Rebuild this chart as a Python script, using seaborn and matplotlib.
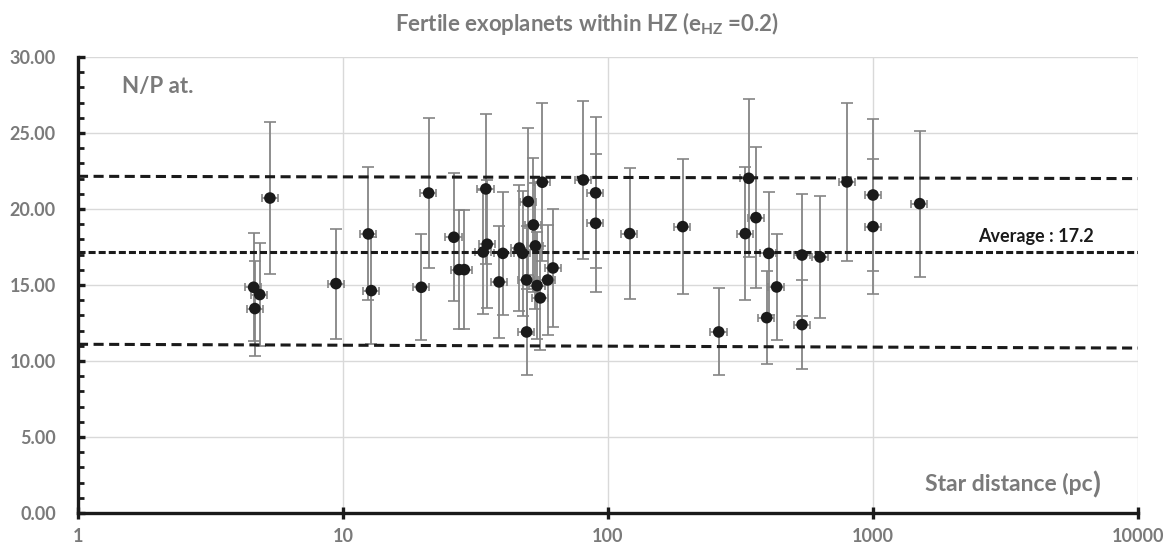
import numpy as np
import pandas as pd
import matplotlib
matplotlib.use("Agg")
import matplotlib.pyplot as plt
import seaborn as sns
from matplotlib.ticker import FixedLocator, MultipleLocator, FuncFormatter

# Star distance (pc), N/P atomic ratio and its uncertainty for each planet
distance_pc = [4.60, 4.65, 4.85, 5.30, 9.41, 12.46, 12.79, 19.75, 21.05, 26.2,
               27.4, 28.7, 34.6, 35.0, 33.8, 38.8, 40.1, 46.3, 47.6, 50.0,
               49.3, 49.3, 52.3, 53.2, 54.0, 55.5, 56.5, 59.2, 62.0, 80.7,
               89.8, 89.8, 120.7, 191.3, 261.7, 329.6, 339.6, 361.8, 404.0, 397.0,
               433.0, 539.6, 539.6, 631.0, 797.7, 1000.0, 1000.0, 1500.0]
np_ratio = [14.85, 13.45, 14.37, 20.72, 15.09, 18.36, 14.63, 14.85, 21.05, 18.14,
            16.01, 16.01, 21.32, 17.68, 17.17, 15.20, 17.08, 17.43, 17.08, 20.49,
            15.33, 11.91, 18.95, 17.57, 14.96, 14.15, 21.76, 15.33, 16.12, 21.91,
            21.06, 19.06, 18.38, 18.84, 11.91, 18.38, 22.02, 19.43, 17.08, 12.85,
            14.87, 16.97, 12.39, 16.84, 21.78, 20.92, 18.84, 20.35]
np_error = [3.55, 3.15, 3.40, 5.00, 3.62, 4.37, 3.50, 3.50, 4.95, 4.20,
            3.90, 3.90, 4.93, 4.20, 4.10, 3.67, 4.04, 4.17, 4.10, 4.84,
            3.55, 2.85, 4.40, 4.14, 3.50, 3.40, 5.20, 3.60, 3.87, 5.20,
            4.97, 4.55, 4.33, 4.45, 2.86, 4.39, 5.20, 4.63, 4.04, 3.05,
            3.50, 4.03, 2.95, 4.00, 5.20, 5.00, 4.45, 4.80]
distance_rel_error = 0.07

# Dispersion band limits at both ends of the distance range, and the mean ratio
band_distance = [1, 10000]
band_upper = [22.15, 22.0]
band_lower = [11.1, 10.85]
average_ratio = 17.2

y_ticks = [0, 5, 10, 15, 20, 25, 30]
x_ticks = [1, 10, 100, 1000, 10000]

df = pd.DataFrame({"distance": distance_pc, "ratio": np_ratio, "err": np_error})

sns.set_theme(style="white")
plt.rcParams["font.family"] = ["Lato", "DejaVu Sans"]

GREY_TXT = "#7a7a7a"
INK = "#1a1a1a"

fig = plt.figure(figsize=(11.69, 5.5), dpi=100)
ax = fig.add_axes([0.0667, 0.0673, 0.9068, 0.8291])
ax.set_xscale("log")
ax.set_xlim(1, 10000)
ax.set_ylim(0, 30)

# light grid
ax.grid(True, which="major", color="#d9d9d9", lw=1.0, zorder=0)
ax.set_axisbelow(True)

# error bars
ax.errorbar(df["distance"], df["ratio"], yerr=df["err"], fmt="none",
            ecolor="#858585", elinewidth=1.3, capsize=4, capthick=1.2, zorder=2)
ax.errorbar(df["distance"], df["ratio"], xerr=df["distance"] * distance_rel_error,
            fmt="none", ecolor="#858585", elinewidth=1.2, capsize=3, capthick=1.2, zorder=2)

# dispersion band and average
ax.plot(band_distance, band_upper, color=INK, lw=2.2, dashes=(3.3, 1.8), zorder=4)
ax.plot(band_distance, band_lower, color=INK, lw=2.2, dashes=(3.3, 1.8), zorder=4)
ax.plot(band_distance, [average_ratio, average_ratio], color=INK, lw=2.2,
        dashes=(2.3, 1.0), zorder=4)

# planets
sns.scatterplot(data=df, x="distance", y="ratio", ax=ax, color=INK, s=70,
                edgecolor="none", linewidth=0, zorder=5, legend=False)

ax.set_xlabel("")
ax.set_ylabel("")

# axes styling
for side in ("top", "right"):
    ax.spines[side].set_visible(False)
for side in ("left", "bottom"):
    ax.spines[side].set_color(INK)
    ax.spines[side].set_linewidth(2.4)
    ax.spines[side].set_zorder(6)

ax.yaxis.set_major_locator(FixedLocator(y_ticks))
ax.yaxis.set_minor_locator(MultipleLocator(1))
ax.yaxis.set_major_formatter(FuncFormatter(lambda v, p: f"{v:.2f}"))
ax.xaxis.set_major_locator(FixedLocator(x_ticks))
ax.xaxis.set_minor_locator(FixedLocator([]))
ax.xaxis.set_major_formatter(FuncFormatter(lambda v, p: f"{v:.0f}"))

ax.tick_params(axis="y", which="major", direction="in", length=5, width=2.4,
               color=INK, pad=16, labelsize=13, labelcolor=GREY_TXT, left=True)
ax.tick_params(axis="y", which="minor", direction="in", length=4, width=2.0,
               color=INK, left=True)
ax.tick_params(axis="x", which="major", direction="inout", length=9, width=2.4,
               color=INK, pad=6, labelsize=13, labelcolor=GREY_TXT, bottom=True)
for lab in ax.get_xticklabels() + ax.get_yticklabels():
    lab.set_fontweight("bold")

# annotations
ax.text(0.0415, 0.921, "N/P at.", transform=ax.transAxes, fontsize=16,
        fontweight="bold", color=GREY_TXT, ha="left", va="baseline")
ax.text(0.9575, 0.048, "Star distance (pc", transform=ax.transAxes, fontsize=16.5,
        fontweight="bold", color=GREY_TXT, ha="right", va="baseline")
ax.text(0.9645, 0.043, ")", transform=ax.transAxes, fontsize=21,
        fontweight="bold", color=GREY_TXT, ha="right", va="baseline")
ax.text(0.849, 0.595, f"Average : {average_ratio}", transform=ax.transAxes,
        fontsize=13, fontweight="bold", color=INK, ha="left", va="baseline")

fig.text(0.502, 0.944, "Fertile exoplanets within HZ (e$\\mathregular{_{HZ}}$ =0.2)",
         fontsize=16, fontweight="bold", color=GREY_TXT, ha="center", va="baseline")

fig.savefig("out.png", dpi=100, facecolor="white")
